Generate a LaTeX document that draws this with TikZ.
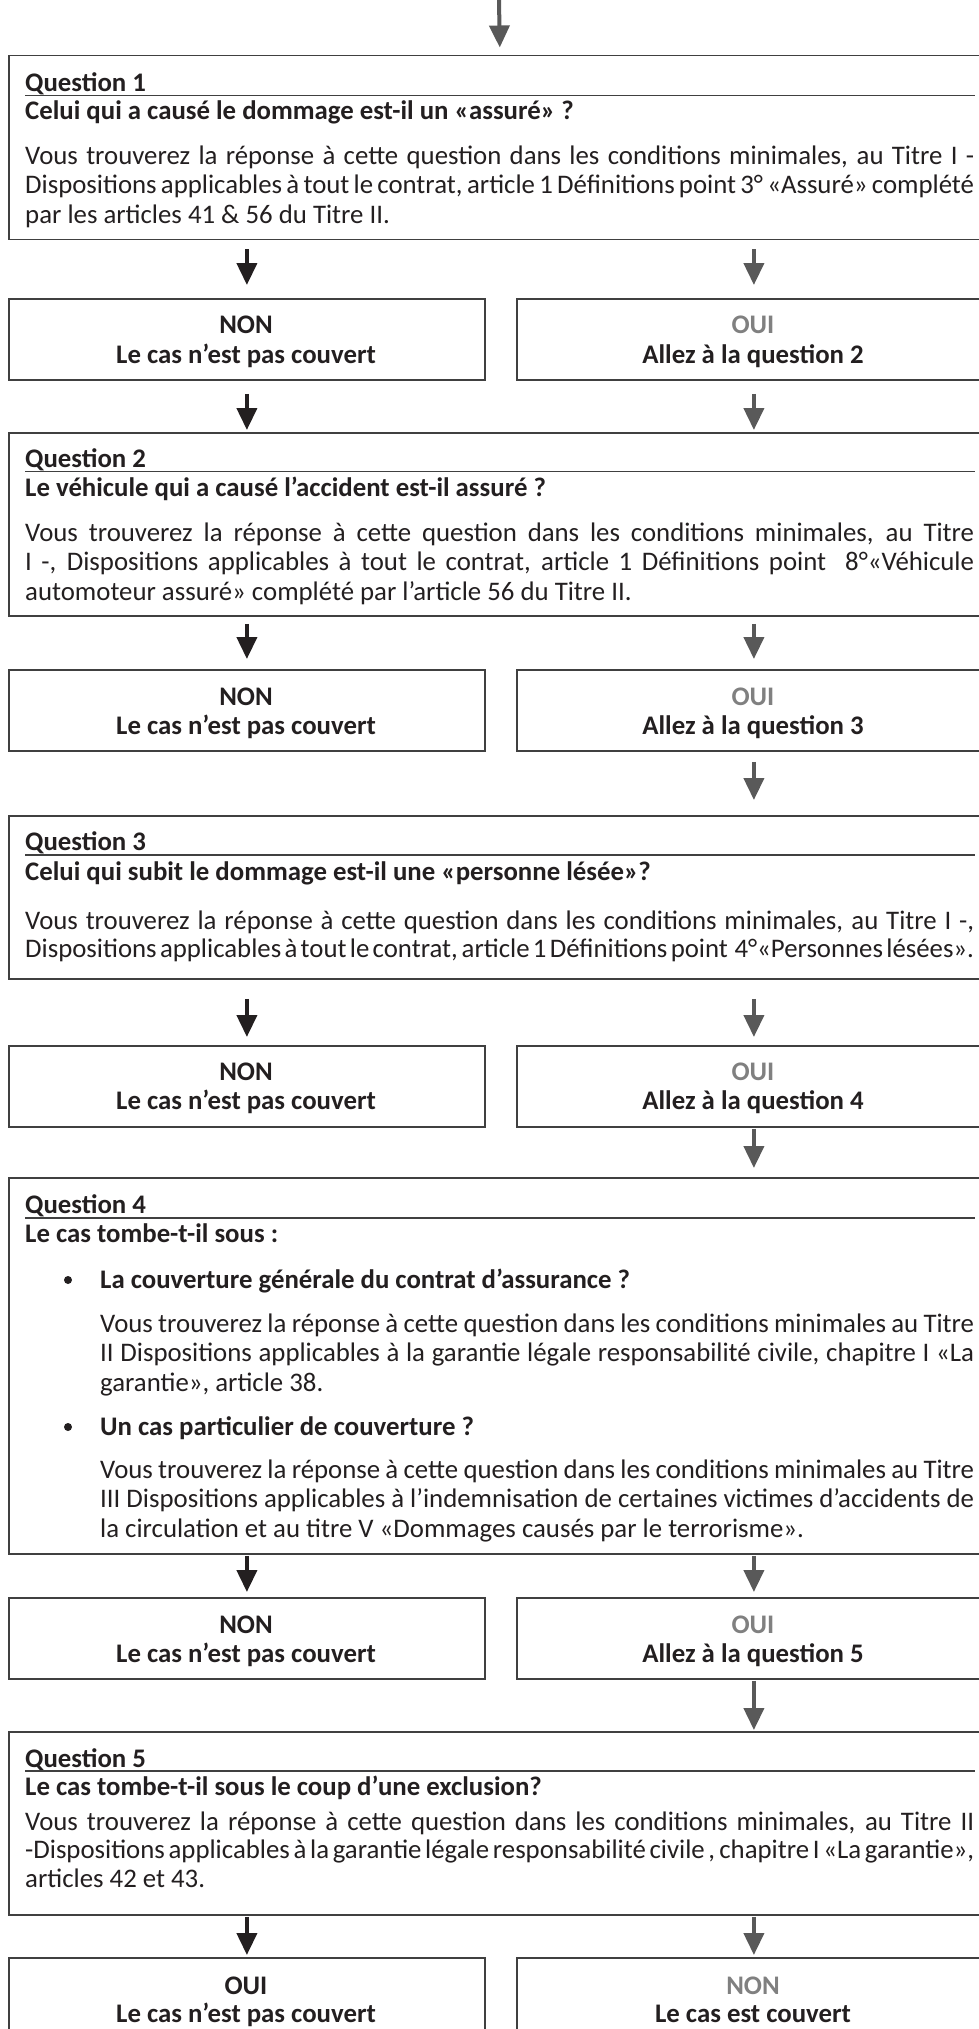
\documentclass[tikz,border=0pt]{standalone}
\usepackage{fontspec}
\setmainfont{Carlito}
\usetikzlibrary{arrows.meta}
\definecolor{txt}{HTML}{231F20}
\definecolor{boxc}{HTML}{404040}
\definecolor{arrk}{HTML}{231F20}
\definecolor{arrg}{HTML}{595959}
\definecolor{ouic}{HTML}{808080}
\newcommand\jl[2]{\makebox[#1][s]{\spaceskip=0.226em plus 0.6em minus 0.17em\relax #2}}
\tikzset{
 boxa/.style={draw=boxc, line width=1.8pt, rectangle, inner sep=0pt, anchor=north west},
 qline/.style={anchor=base west, inner sep=0pt, text=txt, font=\fontsize{26.8}{30}\selectfont},
 qbold/.style={qline, font=\fontsize{26.8}{30}\selectfont\bfseries},
 ctext/.style={anchor=base, inner sep=0pt, text=txt, font=\fontsize{26.8}{30}\selectfont\bfseries},
 cgray/.style={ctext, text=ouic},
 dota/.style={circle, fill=txt, minimum size=8pt, inner sep=0pt},
 rulea/.style={draw=boxc, line width=1.8pt},
 arrblack/.style={line width=4pt, draw=arrk, -{Triangle[width=20pt,length=22pt]}},
 arrgray/.style={arrblack, draw=arrg},
}
\begin{document}
\begin{tikzpicture}[x=1pt,y=-1pt]
\useasboundingbox (0,0) rectangle (979,2029);
\fill[white] (0,0) rectangle (979,2029);

% ---------- Question 1
\node[boxa, minimum width=982pt, minimum height=184pt] (q1) at (8,54.5) {};
\node[qbold] (q1t) at (25,91) {Question 1};
\draw[rulea] (25,95.5) -- (975,95.5);
\node[qbold] (q1s) at (25,119) {Celui qui a causé le dommage est-il un «assuré» ?};
\node[qline] (q1a) at (25,164) {\jl{949pt}{Vous trouverez la réponse à cette question dans les conditions minimales, au Titre I -}};
\node[qline] (q1b) at (25,193.5) {\jl{949pt}{Dispositions applicables à tout le contrat, article 1 Définitions point 3° «Assuré» complété}};
\node[qline] (q1c) at (25,223) {par les articles 41 \& 56 du Titre II.};

\node[boxa, minimum width=476pt, minimum height=81pt] (n1) at (8,298) {};
\node[boxa, minimum width=474pt, minimum height=81pt] (o1) at (516,298) {};
\node[ctext] (n1a) at (246,333) {NON};
\node[ctext] (n1b) at (246,363) {Le cas n’est pas couvert};
\node[cgray] (o1a) at (753,333) {OUI};
\node[ctext] (o1b) at (753,363) {Allez à la question 2};

% ---------- Question 2
\node[boxa, minimum width=982pt, minimum height=183pt] (q2) at (8,432) {};
\node[qbold] (q2t) at (25,467) {Question 2};
\draw[rulea] (25,471.5) -- (975,471.5);
\node[qbold] (q2s) at (25,496) {Le véhicule qui a causé l’accident est-il assuré ?};
\node[qline] (q2a) at (25,541) {\jl{949pt}{Vous trouverez la réponse à cette question dans les conditions minimales, au Titre}};
\node[qline] (q2b) at (25,570.5) {\jl{949pt}{I -, Dispositions applicables à tout le contrat, article 1 Définitions point \ 8°«Véhicule}};
\node[qline] (q2c) at (25,600) {automoteur assuré» complété par l’article 56 du Titre II.};

\node[boxa, minimum width=476pt, minimum height=81pt] (n2) at (8,669) {};
\node[boxa, minimum width=474pt, minimum height=81pt] (o2) at (516,669) {};
\node[ctext] (n2a) at (246,705) {NON};
\node[ctext] (n2b) at (246,734) {Le cas n’est pas couvert};
\node[cgray] (o2a) at (753,705) {OUI};
\node[ctext] (o2b) at (753,734) {Allez à la question 3};

% ---------- Question 3
\node[boxa, minimum width=982pt, minimum height=163pt] (q3) at (8,815) {};
\node[qbold] (q3t) at (25,850) {Question 3};
\draw[rulea] (25,855) -- (975,855);
\node[qbold] (q3s) at (25,880) {Celui qui subit le dommage est-il une «personne lésée»?};
\node[qline] (q3a) at (25,929) {\jl{949pt}{Vous trouverez la réponse à cette question dans les conditions minimales, au Titre I -,}};
\node[qline] (q3b) at (25,957.5) {\jl{949pt}{Dispositions applicables à tout le contrat, article 1 Définitions point \ 4°«Personnes lésées».}};

\node[boxa, minimum width=476pt, minimum height=81pt] (n3) at (8,1045) {};
\node[boxa, minimum width=474pt, minimum height=81pt] (o3) at (516,1045) {};
\node[ctext] (n3a) at (246,1080) {NON};
\node[ctext] (n3b) at (246,1109) {Le cas n’est pas couvert};
\node[cgray] (o3a) at (753,1080) {OUI};
\node[ctext] (o3b) at (753,1109) {Allez à la question 4};

% ---------- Question 4
\node[boxa, minimum width=982pt, minimum height=376pt] (q4) at (8,1177) {};
\node[qbold] (q4t) at (25,1213) {Question 4};
\draw[rulea] (25,1218) -- (975,1218);
\node[qbold] (q4s) at (25,1242) {Le cas tombe-t-il sous :};
\node[dota] (q4d1) at (68,1280) {};
\node[qbold] (q4h1) at (100,1288) {La couverture générale du contrat d’assurance ?};
\node[qline] (q4a) at (100,1332) {\jl{874pt}{Vous trouverez la réponse à cette question dans les conditions minimales au Titre}};
\node[qline] (q4b) at (100,1361.5) {\jl{874pt}{II Dispositions applicables à la garantie légale responsabilité civile, chapitre I «La}};
\node[qline] (q4c) at (100,1391) {garantie», article 38.};
\node[dota] (q4d2) at (68,1427) {};
\node[qbold] (q4h2) at (100,1435) {Un cas particulier de couverture ?};
\node[qline] (q4e) at (100,1478) {\jl{874pt}{Vous trouverez la réponse à cette question dans les conditions minimales au Titre}};
\node[qline] (q4f) at (100,1507.5) {\jl{874pt}{III Dispositions applicables à l’indemnisation de certaines victimes d’accidents de}};
\node[qline] (q4g) at (100,1537) {la circulation et au titre V «Dommages causés par le terrorisme».};

\node[boxa, minimum width=476pt, minimum height=81pt] (n4) at (8,1597) {};
\node[boxa, minimum width=474pt, minimum height=81pt] (o4) at (516,1597) {};
\node[ctext] (n4a) at (246,1633) {NON};
\node[ctext] (n4b) at (246,1662) {Le cas n’est pas couvert};
\node[cgray] (o4a) at (753,1633) {OUI};
\node[ctext] (o4b) at (753,1662) {Allez à la question 5};

% ---------- Question 5
\node[boxa, minimum width=982pt, minimum height=183pt] (q5) at (8,1731) {};
\node[qbold] (q5t) at (25,1767) {Question 5};
\draw[rulea] (25,1771) -- (975,1771);
\node[qbold] (q5s) at (25,1795) {Le cas tombe-t-il sous le coup d’une exclusion?};
\node[qline] (q5a) at (25,1830) {\jl{949pt}{Vous trouverez la réponse à cette question dans les conditions minimales, au Titre II}};
\node[qline] (q5b) at (25,1858.5) {\jl{949pt}{-Dispositions applicables à la garantie légale responsabilité civile , chapitre I «La garantie»,}};
\node[qline] (q5c) at (25,1887) {articles 42 et 43.};

\node[boxa, minimum width=476pt, minimum height=81pt] (n5) at (8,1957) {};
\node[boxa, minimum width=474pt, minimum height=81pt] (o5) at (516,1957) {};
\node[ctext] (n5a) at (246,1994) {OUI};
\node[ctext] (n5b) at (246,2022) {Le cas n’est pas couvert};
\node[cgray] (o5a) at (753,1994) {NON};
\node[ctext] (o5b) at (753,2022) {Le cas est couvert};

% ---------- connectors
\coordinate (start) at (499,0);
\draw[arrgray, shorten >=7pt] (start) -- (q1.north);

\draw[arrblack, shorten <=9pt, shorten >=13pt] (q1.south -| n1.north) -- (n1.north);
\draw[arrgray, shorten <=9pt, shorten >=13pt] (q1.south -| o1.north) -- (o1.north);
\draw[arrblack, shorten <=13pt, shorten >=2pt] (n1.south) -- (q2.north -| n1.south);
\draw[arrgray, shorten <=13pt, shorten >=2pt] (o1.south) -- (q2.north -| o1.south);

\draw[arrblack, shorten <=7pt, shorten >=10pt] (q2.south -| n2.north) -- (n2.north);
\draw[arrgray, shorten <=7pt, shorten >=10pt] (q2.south -| o2.north) -- (o2.north);
\draw[arrgray, shorten <=10pt, shorten >=15pt] (o2.south) -- (q3.north -| o2.south);

\draw[arrblack, shorten <=19pt, shorten >=8pt] (q3.south -| n3.north) -- (n3.north);
\draw[arrgray, shorten <=19pt, shorten >=8pt] (q3.south -| o3.north) -- (o3.north);
\draw[arrgray, shorten <=1pt, shorten >=9pt] (o3.south) -- (q4.north -| o3.south);

\draw[arrblack, shorten <=1pt, shorten >=5pt] (q4.south -| n4.north) -- (n4.north);
\draw[arrgray, shorten <=1pt, shorten >=5pt] (q4.south -| o4.north) -- (o4.north);
\draw[arrgray, shorten <=1pt, shorten >=1pt] (o4.south) -- (q5.north -| o4.south);

\draw[arrblack, shorten <=1pt, shorten >=2pt] (q5.south -| n5.north) -- (n5.north);
\draw[arrgray, shorten <=1pt, shorten >=2pt] (q5.south -| o5.north) -- (o5.north);
\end{tikzpicture}
\end{document}
